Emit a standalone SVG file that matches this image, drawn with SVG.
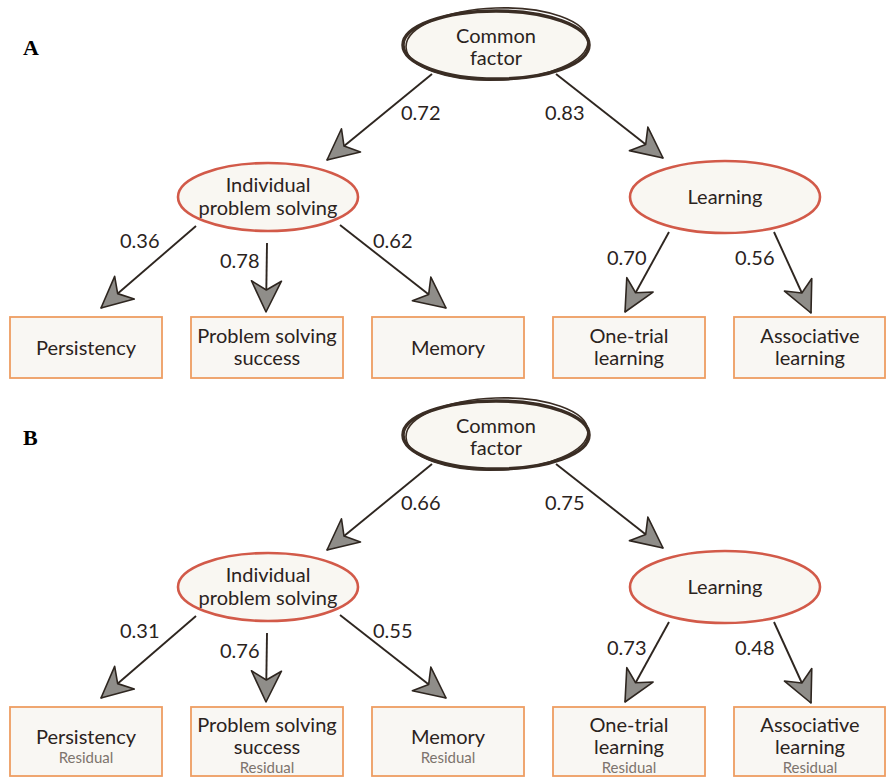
<svg xmlns="http://www.w3.org/2000/svg" width="887" height="777" viewBox="0 0 887 777">
<defs>
<style>
.t{font-family:Lato,"Open Sans","Liberation Sans",sans-serif;font-size:20px;fill:#2b231d;text-anchor:middle}
.n{font-family:Lato,"Open Sans","Liberation Sans",sans-serif;font-size:20px;fill:#2b231d}
.r{font-family:Lato,"Open Sans","Liberation Sans",sans-serif;font-size:15px;fill:#7d746d;text-anchor:middle}
.p{font-family:"Liberation Serif",serif;font-size:22px;font-weight:bold;fill:#000}
.cf{fill:#f9f7f2;stroke:#3a2d24;stroke-width:3.5}
.cf2{fill:none;stroke:#3a2d24;stroke-width:1.6}
.lv{fill:#f9f7f2;stroke:#d25a49;stroke-width:2.6}
.bx{fill:#f9f7f3;stroke:#ee9d62;stroke-width:1.8}
.c{stroke:#2e2620;stroke-width:1.9;fill:none;marker-end:url(#ah)}
</style>
<marker id="ah" markerUnits="userSpaceOnUse" markerWidth="36" markerHeight="36" viewBox="0 0 36 36" refX="33" refY="18" orient="auto">
<path d="M33,18 L2,3 L11,18 L2,33 Z" fill="#8f8d89" stroke="#2e2620" stroke-width="1.6" stroke-linejoin="round"/>
</marker>
</defs>

<text class="p" x="23" y="55">A</text>
<text class="p" x="23" y="445">B</text>

<g id="connectors">
<line class="c" x1="432" y1="74" x2="327" y2="160"/>
<line class="c" x1="556" y1="74" x2="663" y2="158"/>
<line class="c" x1="196" y1="226" x2="101" y2="308"/>
<line class="c" x1="267" y1="243" x2="266" y2="312"/>
<line class="c" x1="340" y1="225" x2="446" y2="308"/>
<line class="c" x1="669" y1="232" x2="625" y2="312"/>
<line class="c" x1="774" y1="232" x2="811" y2="313"/>

<line class="c" x1="432" y1="464" x2="327" y2="550"/>
<line class="c" x1="556" y1="464" x2="663" y2="548"/>
<line class="c" x1="196" y1="616" x2="101" y2="698"/>
<line class="c" x1="267" y1="633" x2="266" y2="702"/>
<line class="c" x1="340" y1="615" x2="446" y2="698"/>
<line class="c" x1="669" y1="622" x2="625" y2="702"/>
<line class="c" x1="774" y1="622" x2="811" y2="703"/>
</g>

<g id="labels">
<text class="n" x="401" y="120">0.72</text>
<text class="n" x="545" y="120">0.83</text>
<text class="n" x="120" y="248">0.36</text>
<text class="n" x="220" y="268">0.78</text>
<text class="n" x="373" y="248">0.62</text>
<text class="n" x="607" y="265">0.70</text>
<text class="n" x="735" y="265">0.56</text>

<text class="n" x="401" y="510">0.66</text>
<text class="n" x="545" y="510">0.75</text>
<text class="n" x="120" y="638">0.31</text>
<text class="n" x="220" y="658">0.76</text>
<text class="n" x="373" y="638">0.55</text>
<text class="n" x="607" y="655">0.73</text>
<text class="n" x="735" y="655">0.48</text>
</g>

<!-- Panel A -->
<g id="a-common">
<ellipse class="cf" cx="496" cy="45" rx="93" ry="34"/>
<ellipse class="cf2" cx="497" cy="44" rx="91" ry="36" transform="rotate(-2 497 44)"/>
<text class="t" x="496" y="43">Common</text>
<text class="t" x="496" y="65">factor</text>
</g>
<g id="a-ips">
<ellipse class="lv" cx="268" cy="197" rx="90" ry="34"/>
<text class="t" x="268" y="192">Individual</text>
<text class="t" x="268" y="215">problem solving</text>
</g>
<g id="a-learning">
<ellipse class="lv" cx="725" cy="197" rx="95" ry="36"/>
<text class="t" x="725" y="204">Learning</text>
</g>
<g id="a-persistency">
<rect class="bx" x="10" y="317" width="152" height="61"/>
<text class="t" x="86" y="355">Persistency</text>
</g>
<g id="a-pss">
<rect class="bx" x="191" y="317" width="152" height="61"/>
<text class="t" x="267" y="343">Problem solving</text>
<text class="t" x="267" y="365">success</text>
</g>
<g id="a-memory">
<rect class="bx" x="372" y="317" width="152" height="61"/>
<text class="t" x="448" y="355">Memory</text>
</g>
<g id="a-onetrial">
<rect class="bx" x="553" y="317" width="152" height="61"/>
<text class="t" x="629" y="343">One-trial</text>
<text class="t" x="629" y="365">learning</text>
</g>
<g id="a-associative">
<rect class="bx" x="734" y="317" width="151" height="61"/>
<text class="t" x="810" y="343">Associative</text>
<text class="t" x="810" y="365">learning</text>
</g>

<!-- Panel B -->
<g id="b-common">
<ellipse class="cf" cx="496" cy="435" rx="93" ry="34"/>
<ellipse class="cf2" cx="497" cy="434" rx="91" ry="36" transform="rotate(-2 497 434)"/>
<text class="t" x="496" y="433">Common</text>
<text class="t" x="496" y="455">factor</text>
</g>
<g id="b-ips">
<ellipse class="lv" cx="268" cy="587" rx="90" ry="34"/>
<text class="t" x="268" y="582">Individual</text>
<text class="t" x="268" y="605">problem solving</text>
</g>
<g id="b-learning">
<ellipse class="lv" cx="725" cy="587" rx="95" ry="36"/>
<text class="t" x="725" y="594">Learning</text>
</g>
<g id="b-persistency">
<rect class="bx" x="10" y="707" width="152" height="69"/>
<text class="t" x="86" y="744">Persistency</text>
<text class="r" x="86" y="763">Residual</text>
</g>
<g id="b-pss">
<rect class="bx" x="191" y="707" width="152" height="69"/>
<text class="t" x="267" y="732">Problem solving</text>
<text class="t" x="267" y="754">success</text>
<text class="r" x="267" y="773">Residual</text>
</g>
<g id="b-memory">
<rect class="bx" x="372" y="707" width="152" height="69"/>
<text class="t" x="448" y="744">Memory</text>
<text class="r" x="448" y="763">Residual</text>
</g>
<g id="b-onetrial">
<rect class="bx" x="553" y="707" width="152" height="69"/>
<text class="t" x="629" y="732">One-trial</text>
<text class="t" x="629" y="754">learning</text>
<text class="r" x="629" y="773">Residual</text>
</g>
<g id="b-associative">
<rect class="bx" x="734" y="707" width="151" height="69"/>
<text class="t" x="810" y="732">Associative</text>
<text class="t" x="810" y="754">learning</text>
<text class="r" x="810" y="773">Residual</text>
</g>
</svg>
